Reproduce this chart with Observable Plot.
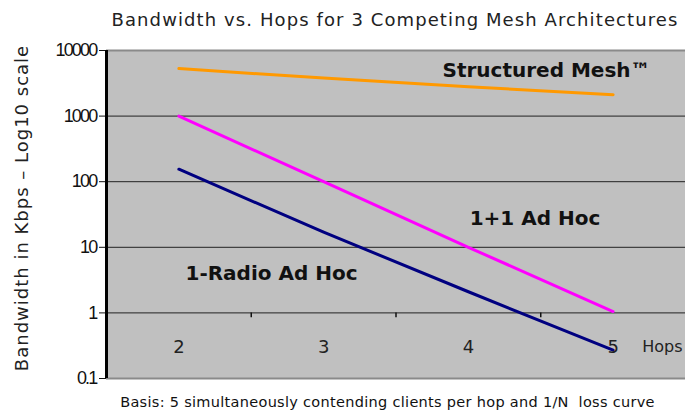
<!DOCTYPE html>
<html>
<head>
<meta charset="utf-8">
<script src="https://cdn.jsdelivr.net/npm/d3@7"></script>
<script src="https://cdn.jsdelivr.net/npm/@observablehq/plot@0.6"></script>
<style>
  html, body { margin: 0; padding: 0; background: #fff; overflow: hidden; }
  #wrap { position: relative; width: 685px; height: 412px; font-family: Tahoma, Verdana, "DejaVu Sans", sans-serif; }
  #title { position: absolute; top: 9px; left: 0; width: 790px; text-align: center; font-size: 18px; letter-spacing: 1.1px; color: #222; white-space: nowrap; line-height: 22px; }
  #ytitle { position: absolute; left: 22px; top: 208px; transform: translate(-50%, -50%) rotate(-90deg); font-size: 18px; letter-spacing: 1px; color: #222; white-space: nowrap; line-height: 20px; }
  #chart { position: absolute; top: 40px; left: 0; }
  #caption { position: absolute; top: 394px; left: 0; width: 775px; text-align: center; font-size: 14.5px; letter-spacing: 0.3px; color: #111; white-space: nowrap; line-height: 16px; }
  #chart svg { overflow: visible; }
  #chart g[aria-label="y-axis tick label"] text { letter-spacing: -1.8px; }
</style>
</head>
<body>
<div id="wrap">
  <div id="title">Bandwidth vs. Hops for 3 Competing Mesh Architectures</div>
  <div id="chart"></div>
  <div id="ytitle"></div>
  <div id="caption">Basis: 5 simultaneously contending clients per hop and 1/N&nbsp; loss curve</div>
</div>
<script>
// ---- data ----
const hops = [2, 3, 4, 5];
const structuredMesh = [5300, 3800, 2800, 2120];
const adHoc1plus1 = [1000, 100, 10, 1.05];
const adHoc1Radio = [155, 17, 2.1, 0.27];
const seriesNames = ["Structured Mesh", "1+1 Ad Hoc", "1-Radio Ad Hoc"];
const seriesColors = ["#ff9900", "#ff00ff", "#000080"];
const yTicks = [0.1, 1, 10, 100, 1000, 10000];
const yTickLabels = ["0.1", "1", "10", "100", "1000", "10000"];
const categoryBounds = [2.5, 3.5, 4.5];
const yTitle = "Bandwidth in Kbps \u2013 Log10 scale";
const xTitle = "Hops";
const seriesLabels = [
  {text: "Structured Mesh\u2122", x: 4.54, y: 4900},
  {text: "1+1 Ad Hoc", x: 4.46, y: 27},
  {text: "1-Radio Ad Hoc", x: 2.64, y: 4.0}
];

document.getElementById("ytitle").textContent = yTitle;

const rows = [];
[structuredMesh, adHoc1plus1, adHoc1Radio].forEach((vals, i) => {
  hops.forEach((h, j) => rows.push({series: seriesNames[i], hops: h, bw: vals[j]}));
});
const labelOf = new Map(yTicks.map((t, i) => [t, yTickLabels[i]]));

const chart = Plot.plot({
  width: 685,
  height: 350,
  marginTop: 10,
  marginBottom: 12,
  marginLeft: 106,
  marginRight: 0,
  style: {background: "transparent", fontFamily: "Tahoma, Verdana, 'DejaVu Sans', sans-serif"},
  x: {domain: [1.5, 5.5], axis: null},
  y: {type: "log", domain: [0.1, 10000], axis: null},
  color: {domain: seriesNames, range: seriesColors},
  marks: [
    Plot.frame({fill: "#c0c0c0", stroke: null}),
    Plot.ruleY(yTicks.slice(1, -1), {stroke: "#222", strokeWidth: 1}),
    Plot.ruleY([yTicks[0], yTicks[yTicks.length - 1]], {stroke: "#8a8a8a", strokeWidth: 2}),
    Plot.ruleX(categoryBounds, {y1: 1, y2: 0.84, stroke: "#111", strokeWidth: 1.5}),
    Plot.axisY({ticks: yTicks, tickFormat: d => labelOf.get(d), tickSize: 7, tickPadding: 3,
      fontSize: 18, fontFamily: "'Liberation Sans', Arial, sans-serif", stroke: "#111", color: "#111"}),
    Plot.ruleX([1.5], {stroke: "#000", strokeWidth: 3}),
    Plot.line(rows, {x: "hops", y: "bw", z: "series", stroke: "series", strokeWidth: 3, curve: "linear"}),
    Plot.text(hops, {x: d => d, y: () => 1, dy: 34, text: d => String(d), fontSize: 18, fill: "#222"}),
    Plot.text([xTitle], {y: () => 1, frameAnchor: "right", textAnchor: "end", dx: -3, dy: 34, fontSize: 16, fill: "#222"}),
    Plot.text(seriesLabels, {x: "x", y: "y", text: "text", fontSize: 20, fontWeight: "bold", fill: "#111"})
  ]
});
document.getElementById("chart").appendChild(chart);
</script>
</body>
</html>
